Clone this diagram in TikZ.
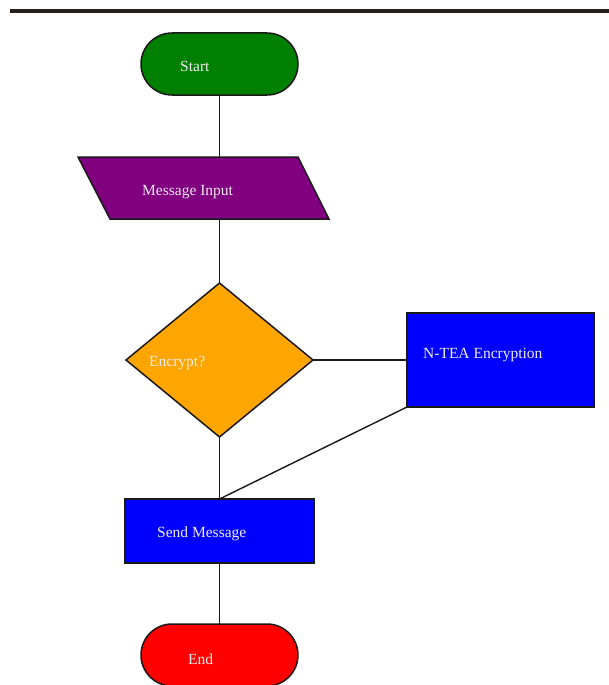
\documentclass[tikz,border=0pt]{standalone}
\usepackage{fontspec}
\setmainfont{Liberation Serif}
\usetikzlibrary{shapes.geometric,shapes.misc}
\definecolor{bar}{RGB}{35,31,28}
\definecolor{edge}{RGB}{25,25,25}
\definecolor{txt}{RGB}{238,236,238}
\definecolor{cgreen}{RGB}{0,128,0}
\definecolor{cpurple}{RGB}{128,0,128}
\definecolor{corange}{RGB}{255,165,0}
\definecolor{cblue}{RGB}{0,0,255}
\definecolor{cred}{RGB}{255,0,0}
\tikzset{
  shapebox/.style={draw=edge, line width=1.5pt, inner sep=0pt, outer sep=0pt},
  term/.style={shapebox, rounded rectangle, minimum width=157pt, minimum height=62pt},
  procbox/.style={shapebox, rectangle, fill=cblue},
  decis/.style={shapebox, diamond, fill=corange, minimum width=187pt, minimum height=154pt},
  label/.style={text=txt, font=\fontsize{15.5}{18}\selectfont, anchor=west, inner sep=0pt},
  conn/.style={draw=edge, line width=1.4pt}
}
\begin{document}
\begin{tikzpicture}[x=1pt,y=-1pt]
\useasboundingbox (0,0) rectangle (609,685);
\fill[bar] (10,9) rectangle (609,13);
% Start
\node[term, fill=cgreen] (start) at (219.5,64) {};
\node[label] (startT) at (180,66) {Start};
% Input parallelogram
\path[shapebox, fill=cpurple] (78,157) -- (298,157) -- (329,219) -- (110,219) -- cycle;
\coordinate (inTop) at (219.5,157);
\coordinate (inBot) at (219.5,219);
\node[label] (inputT) at (142,192) {Message Input};
% Decision
\node[decis] (dec) at (219.5,360) {};
\node[label] (decT) at (149,363) {Encrypt?};
% Encryption
\node[procbox, minimum width=187pt, minimum height=94pt] (enc) at (500.5,360) {};
\node[label] (encT) at (423,355) {N-TEA Encryption};
% Send
\node[procbox, minimum width=189pt, minimum height=64pt] (send) at (219.5,531) {};
\node[label] (sendT) at (157,534) {Send Message};
% End
\node[term, fill=cred] (end) at (219.5,655) {};
\node[label] (endT) at (188,659) {End};
% connectors
\draw[conn] (start.south) -- (inTop);
\draw[conn] (inBot) -- (dec.north);
\draw[conn] (dec.east) -- (enc.west);
\draw[conn] (dec.south) -- (send.north);
\draw[conn] (enc.south west) -- (send.north);
\draw[conn] (send.south) -- (end.north);
\end{tikzpicture}
\end{document}
